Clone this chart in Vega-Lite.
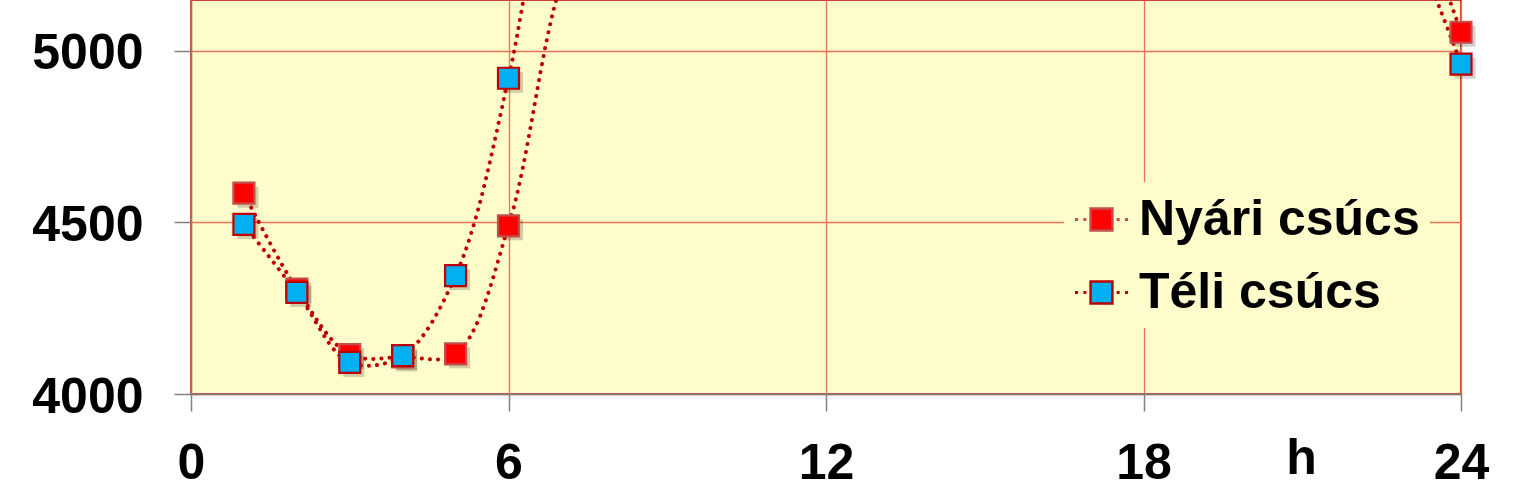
{
  "$schema": "https://vega.github.io/schema/vega-lite/v6.json",
  "width": 1270,
  "height": 394,
  "autosize": "none",
  "padding": {"left": 191, "top": 0, "right": 66, "bottom": 105},
  "background": "white",
  "config": {
    "view": {"fill": "#FFFCCB", "stroke": "#C00000", "strokeWidth": 1.5},
    "font": "Liberation Sans"
  },
  "data": {
    "values": [
      {"h": 1, "s": "Nyári csúcs", "v": 4585},
      {"h": 2, "s": "Nyári csúcs", "v": 4306},
      {"h": 3, "s": "Nyári csúcs", "v": 4115},
      {"h": 4, "s": "Nyári csúcs", "v": 4108},
      {"h": 5, "s": "Nyári csúcs", "v": 4117},
      {"h": 6, "s": "Nyári csúcs", "v": 4490},
      {"h": 7, "s": "Nyári csúcs", "v": 5200},
      {"h": 8, "s": "Nyári csúcs", "v": 5550},
      {"h": 9, "s": "Nyári csúcs", "v": 5750},
      {"h": 10, "s": "Nyári csúcs", "v": 5850},
      {"h": 11, "s": "Nyári csúcs", "v": 5900},
      {"h": 12, "s": "Nyári csúcs", "v": 5920},
      {"h": 13, "s": "Nyári csúcs", "v": 5900},
      {"h": 14, "s": "Nyári csúcs", "v": 5880},
      {"h": 15, "s": "Nyári csúcs", "v": 5850},
      {"h": 16, "s": "Nyári csúcs", "v": 5800},
      {"h": 17, "s": "Nyári csúcs", "v": 5750},
      {"h": 18, "s": "Nyári csúcs", "v": 5700},
      {"h": 19, "s": "Nyári csúcs", "v": 5680},
      {"h": 20, "s": "Nyári csúcs", "v": 5700},
      {"h": 21, "s": "Nyári csúcs", "v": 5750},
      {"h": 22, "s": "Nyári csúcs", "v": 5700},
      {"h": 23, "s": "Nyári csúcs", "v": 5450},
      {"h": 24, "s": "Nyári csúcs", "v": 5054},
      {"h": 1, "s": "Téli csúcs", "v": 4494},
      {"h": 2, "s": "Téli csúcs", "v": 4296},
      {"h": 3, "s": "Téli csúcs", "v": 4092},
      {"h": 4, "s": "Téli csúcs", "v": 4112},
      {"h": 5, "s": "Téli csúcs", "v": 4345},
      {"h": 6, "s": "Téli csúcs", "v": 4920},
      {"h": 7, "s": "Téli csúcs", "v": 5750},
      {"h": 8, "s": "Téli csúcs", "v": 6150},
      {"h": 9, "s": "Téli csúcs", "v": 6250},
      {"h": 10, "s": "Téli csúcs", "v": 6250},
      {"h": 11, "s": "Téli csúcs", "v": 6250},
      {"h": 12, "s": "Téli csúcs", "v": 6200},
      {"h": 13, "s": "Téli csúcs", "v": 6150},
      {"h": 14, "s": "Téli csúcs", "v": 6100},
      {"h": 15, "s": "Téli csúcs", "v": 6100},
      {"h": 16, "s": "Téli csúcs", "v": 6300},
      {"h": 17, "s": "Téli csúcs", "v": 6500},
      {"h": 18, "s": "Téli csúcs", "v": 6450},
      {"h": 19, "s": "Téli csúcs", "v": 6300},
      {"h": 20, "s": "Téli csúcs", "v": 6100},
      {"h": 21, "s": "Téli csúcs", "v": 5850},
      {"h": 22, "s": "Téli csúcs", "v": 5650},
      {"h": 23, "s": "Téli csúcs", "v": 5350},
      {"h": 24, "s": "Téli csúcs", "v": 4961}
    ]
  },
  "encoding": {
    "x": {
      "field": "h",
      "type": "quantitative",
      "scale": {"domain": [0, 24], "nice": false},
      "axis": {
        "values": [0, 6, 12, 18, 24],
        "format": "d",
        "grid": true,
        "gridColor": "#E8735A",
        "gridWidth": 1.3,
        "domainColor": "#808080",
        "domainWidth": 1.5,
        "tickColor": "#808080",
        "tickWidth": 1.5,
        "tickSize": 17,
        "labelFont": "Liberation Sans",
        "labelFontSize": 50,
        "labelFontWeight": "bold",
        "labelColor": "black",
        "labelPadding": 27,
        "labelFlush": false,
        "labelOverlap": false,
        "title": "h",
        "titleFont": "Liberation Sans",
        "titleFontSize": 50,
        "titleFontWeight": "bold",
        "titleColor": "black",
        "titleX": 1110,
        "titleY": 79,
        "titleAlign": "center",
        "titleBaseline": "alphabetic"
      }
    },
    "y": {
      "field": "v",
      "type": "quantitative",
      "scale": {"domain": [4000, 5148], "nice": false, "zero": false},
      "axis": {
        "values": [4000, 4500, 5000],
        "format": "d",
        "grid": true,
        "gridColor": "#E8735A",
        "gridWidth": 1.3,
        "domainColor": "#808080",
        "domainWidth": 1.5,
        "tickColor": "#808080",
        "tickWidth": 1.5,
        "tickSize": 17,
        "labelFont": "Liberation Sans",
        "labelFontSize": 50,
        "labelFontWeight": "bold",
        "labelColor": "black",
        "labelPadding": 31,
        "labelOffset": 3,
        "labelFlush": false,
        "labelOverlap": false,
        "title": null
      }
    }
  },
  "layer": [
    {
      "transform": [{"filter": "datum.v <= 5148"}],
      "mark": {"type": "point", "shape": "square", "filled": true, "size": 441, "color": "#000000", "opacity": 0.18, "xOffset": 4, "yOffset": 4, "strokeWidth": 0}
    },
    {
      "mark": {
        "type": "line",
        "interpolate": "catmull-rom",
        "clip": true,
        "color": "#C00000",
        "strokeWidth": 4,
        "strokeDash": [0.1, 8],
        "strokeCap": "round"
      },
      "encoding": {"detail": {"field": "s", "type": "nominal"}}
    },
    {
      "transform": [{"filter": "datum.v <= 5148"}],
      "mark": {"type": "point", "shape": "square", "filled": true, "size": 441, "strokeWidth": 2.2, "opacity": 1},
      "encoding": {
        "fill": {
          "field": "s",
          "type": "nominal",
          "scale": {"domain": ["Nyári csúcs", "Téli csúcs"], "range": ["#FF0000", "#00B0F0"]},
          "legend": {
            "orient": "none",
            "legendX": 873,
            "legendY": 182,
            "title": null,
            "fillColor": "#FFFCCB",
            "padding": 10,
            "symbolType": "M-0.42,-0.42H0.42V0.42H-0.42Z M-0.97,-0.01h0.02v0.02h-0.02Z M-0.65,-0.01h0.02v0.02h-0.02Z M0.63,-0.01h0.02v0.02h-0.02Z M0.95,-0.01h0.02v0.02h-0.02Z",
            "symbolSize": 2704,
            "symbolStrokeWidth": 2.5,
            "symbolStrokeColor": "#C00000",
            "symbolOpacity": 1,
            "labelFont": "Liberation Sans",
            "labelFontSize": 50,
            "labelFontWeight": "bold",
            "labelColor": "black",
            "labelOffset": 10,
            "labelLimit": 500,
            "rowPadding": 20,
            "encode": {
              "symbols": {"update": {"stroke": {"value": "#C00000"}, "strokeWidth": {"value": 2.5}, "opacity": {"value": 1}}}
            }
          }
        },
        "stroke": {
          "field": "s",
          "type": "nominal",
          "scale": {"domain": ["Nyári csúcs", "Téli csúcs"], "range": ["#C0504D", "#C00000"]},
          "legend": null
        }
      }
    }
  ]
}
